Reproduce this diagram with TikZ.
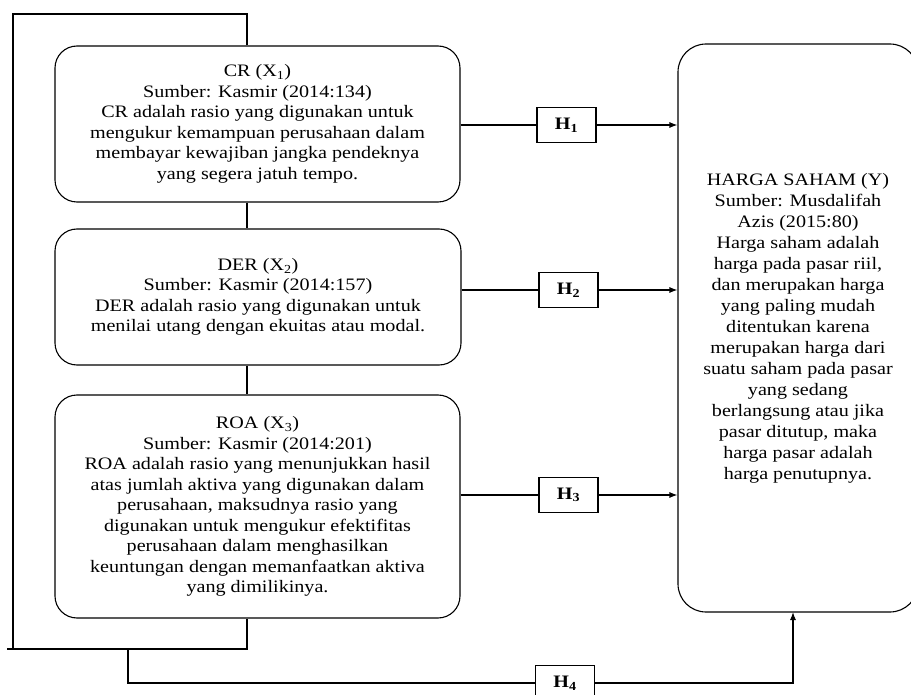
\documentclass[tikz,border=0pt]{standalone}
\usepackage{fontspec}
\setmainfont{Liberation Serif}[FakeStretch=1.15]
\usepackage{tikz}
\usetikzlibrary{arrows.meta}

\begin{document}
\begin{tikzpicture}[x=1pt,y=-1pt,line width=1.1pt,
		varbox/.style={draw,rounded corners=22pt,inner sep=0pt,align=center,
			font={\fontsize{17.5}{20.5}\selectfont}},
		hypo/.style={draw,inner sep=0pt,minimum width=59pt,minimum height=35pt,
			font={\fontsize{17.5}{20.5}\selectfont\bfseries}},
		>={Latex[length=8pt,width=6pt]}]
	\useasboundingbox (0,0) rectangle (911,695);
	\fill[white] (0,0) rectangle (911,695);

	\node[varbox,minimum width=405pt,minimum height=156pt] (cr) at (257.5,124)
		{CR (X\textsubscript{1})\\ Sumber: Kasmir (2014:134)\\ CR adalah rasio yang digunakan untuk\\ mengukur kemampuan perusahaan dalam\\ membayar kewajiban jangka pendeknya\\ yang segera jatuh tempo.};
	\node[varbox,minimum width=406pt,minimum height=136pt] (der) at (258,297)
		{DER (X\textsubscript{2})\\ Sumber: Kasmir (2014:157)\\ DER adalah rasio yang digunakan untuk\\ menilai utang dengan ekuitas atau modal.};
	\node[varbox,minimum width=405pt,minimum height=223pt] (roa) at (257.5,506.5)
		{ROA (X\textsubscript{3})\\ Sumber: Kasmir (2014:201)\\ ROA adalah rasio yang menunjukkan hasil\\ atas jumlah aktiva yang digunakan dalam\\ perusahaan, maksudnya rasio yang\\ digunakan untuk mengukur efektifitas\\ perusahaan dalam menghasilkan\\ keuntungan dengan memanfaatkan aktiva\\ yang dimilikinya.};
	\node[varbox,rounded corners=28pt,minimum width=240pt,minimum height=568pt,
		font={\fontsize{17.5}{21}\selectfont}] (y) at (798,328)
		{HARGA SAHAM (Y)\\ Sumber: Musdalifah\\ Azis (2015:80)\\ Harga saham adalah\\ harga pada pasar riil,\\ dan merupakan harga\\ yang paling mudah\\ ditentukan karena\\ merupakan harga dari\\ suatu saham pada pasar\\ yang sedang\\ berlangsung atau jika\\ pasar ditutup, maka\\ harga pasar adalah\\ harga penutupnya.};

	\node[hypo] (h1) at (566.5,125) {H\textsubscript{1}};
	\node[hypo] (h2) at (568.5,290) {H\textsubscript{2}};
	\node[hypo] (h3) at (568.5,495) {H\textsubscript{3}};
	\node[hypo] (h4) at (565,683) {H\textsubscript{4}};

	\draw (cr.east |- h1) -- (h1);
	\draw[->] (h1) -- (h1 -| y.west);
	\draw (der.east |- h2) -- (h2);
	\draw[->] (h2) -- (h2 -| y.west);
	\draw (roa.east |- h3) -- (h3);
	\draw[->] (h3) -- (h3 -| y.west);

	% frame round the three boxes
	\coordinate (tl) at (13,14);
	\coordinate (tr) at (247,14);
	\coordinate (bl) at (13,649);
	\coordinate (br) at (247,649);
	\draw (cr.north -| tr) -- (tr) -- (tl) -- (bl);
	\draw ([xshift=-6pt]bl) -- (br) -- (roa.south -| br);
	\draw (cr.south -| tr) -- (der.north -| tr);
	\draw (der.south -| tr) -- (roa.north -| tr);

	\coordinate (split) at (128,649);
	\coordinate (yin) at (793,612);
	\draw (split) |- (h4);
	\draw[->] (h4) -| (yin);
\end{tikzpicture}
\end{document}
